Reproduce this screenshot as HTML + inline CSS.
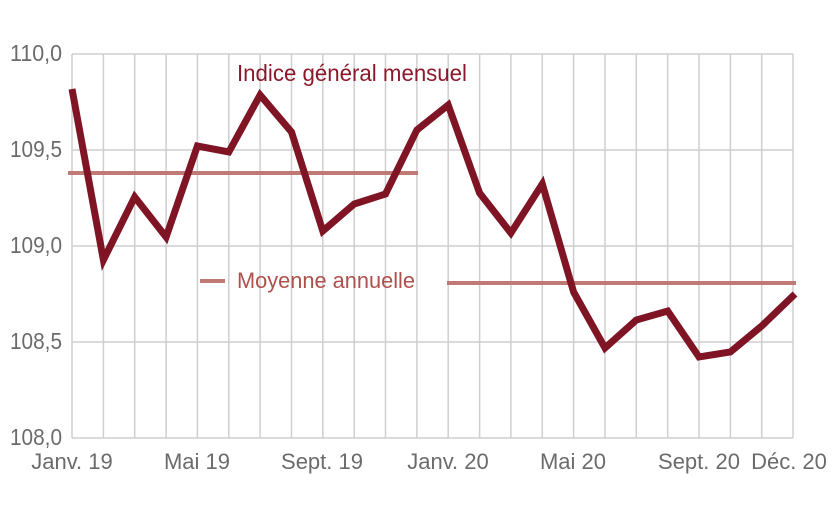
<!DOCTYPE html>
<html><head><meta charset="utf-8"><style>body{margin:0;background:#fff}</style></head><body>
<svg width="835" height="509" xmlns="http://www.w3.org/2000/svg" font-family="Liberation Sans, sans-serif">
<g stroke="#cfcfcf" stroke-width="1.5">
<line x1="72" y1="54" x2="793" y2="54"/><line x1="72" y1="150" x2="793" y2="150"/><line x1="72" y1="246" x2="793" y2="246"/><line x1="72" y1="342" x2="793" y2="342"/><line x1="72" y1="438" x2="793" y2="438"/>
<line x1="72" y1="54" x2="72" y2="438"/><line x1="103.4" y1="54" x2="103.4" y2="438"/><line x1="134.7" y1="54" x2="134.7" y2="438"/><line x1="166.1" y1="54" x2="166.1" y2="438"/><line x1="197.4" y1="54" x2="197.4" y2="438"/><line x1="228.8" y1="54" x2="228.8" y2="438"/><line x1="260.1" y1="54" x2="260.1" y2="438"/><line x1="291.5" y1="54" x2="291.5" y2="438"/><line x1="322.8" y1="54" x2="322.8" y2="438"/><line x1="354.2" y1="54" x2="354.2" y2="438"/><line x1="385.5" y1="54" x2="385.5" y2="438"/><line x1="416.9" y1="54" x2="416.9" y2="438"/><line x1="448.2" y1="54" x2="448.2" y2="438"/><line x1="479.6" y1="54" x2="479.6" y2="438"/><line x1="510.9" y1="54" x2="510.9" y2="438"/><line x1="542.3" y1="54" x2="542.3" y2="438"/><line x1="573.6" y1="54" x2="573.6" y2="438"/><line x1="605" y1="54" x2="605" y2="438"/><line x1="636.3" y1="54" x2="636.3" y2="438"/><line x1="667.7" y1="54" x2="667.7" y2="438"/><line x1="699" y1="54" x2="699" y2="438"/><line x1="730.4" y1="54" x2="730.4" y2="438"/><line x1="761.7" y1="54" x2="761.7" y2="438"/><line x1="793" y1="54" x2="793" y2="438"/>
</g>
<g fill="#6b6b6b" font-size="23">
<text x="10" y="61" textLength="52" lengthAdjust="spacingAndGlyphs">110,0</text><text x="10" y="157" textLength="52" lengthAdjust="spacingAndGlyphs">109,5</text><text x="10" y="253" textLength="52" lengthAdjust="spacingAndGlyphs">109,0</text><text x="10" y="349" textLength="52" lengthAdjust="spacingAndGlyphs">108,5</text><text x="10" y="445" textLength="52" lengthAdjust="spacingAndGlyphs">108,0</text>
</g>
<g fill="#6b6b6b" font-size="22" text-anchor="middle">
<text x="72" y="469">Janv. 19</text><text x="197" y="469">Mai 19</text><text x="322" y="469">Sept. 19</text><text x="448" y="469">Janv. 20</text><text x="573" y="469">Mai 20</text><text x="699" y="469">Sept. 20</text><text x="789" y="469">Déc. 20</text>
</g>
<g stroke="#c07a76" stroke-width="4">
<line x1="68" y1="173" x2="418" y2="173"/><line x1="447" y1="283" x2="796" y2="283"/><line x1="200" y1="281" x2="225" y2="281"/>
</g>
<text x="237" y="288" fill="#b0504c" font-size="22" textLength="178" lengthAdjust="spacingAndGlyphs">Moyenne annuelle</text>
<text x="237" y="81" fill="#8a1a2b" font-size="23" textLength="230" lengthAdjust="spacingAndGlyphs">Indice général mensuel</text>
<polyline fill="none" stroke="#7f1425" stroke-width="7" points="72,89 103.4,260 134.7,197 166.1,237 197.4,146 228.8,152 260.1,95 291.5,132 322.8,231 354.2,204 385.5,194 416.9,130 448.2,105 479.6,193 510.9,233 542.3,184 573.6,292 605,348 636.3,320 667.7,311 699,357 730.4,352 761.7,326 795,294"/>
</svg>
</body></html>
